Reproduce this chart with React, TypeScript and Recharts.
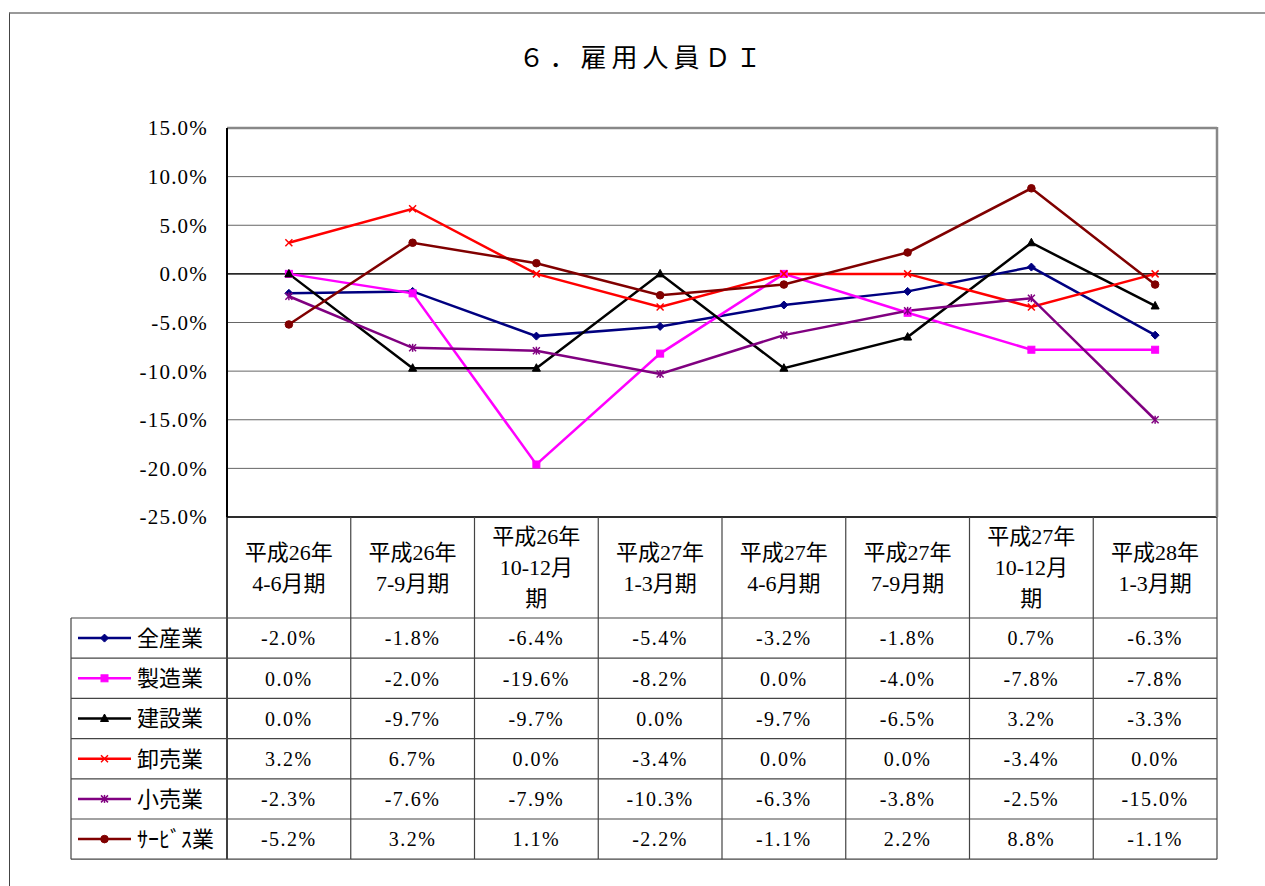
import React from 'react';
import {
  LineChart,
  Line,
  XAxis,
  YAxis,
  CartesianGrid,
  ReferenceLine,
} from 'recharts';

const CATEGORIES = [
  '平成26年\n4-6月期',
  '平成26年\n7-9月期',
  '平成26年\n10-12月\n期',
  '平成27年\n1-3月期',
  '平成27年\n4-6月期',
  '平成27年\n7-9月期',
  '平成27年\n10-12月\n期',
  '平成28年\n1-3月期',
];

const ZEN_SANGYO = [-2.0, -1.8, -6.4, -5.4, -3.2, -1.8, 0.7, -6.3];
const SEIZOGYO = [0.0, -2.0, -19.6, -8.2, 0.0, -4.0, -7.8, -7.8];
const KENSETSUGYO = [0.0, -9.7, -9.7, 0.0, -9.7, -6.5, 3.2, -3.3];
const OROSHIURI = [3.2, 6.7, 0.0, -3.4, 0.0, 0.0, -3.4, 0.0];
const KOURI = [-2.3, -7.6, -7.9, -10.3, -6.3, -3.8, -2.5, -15.0];
const SERVICE = [-5.2, 3.2, 1.1, -2.2, -1.1, 2.2, 8.8, -1.1];

const Y_TICKS = [15, 10, 5, 0, -5, -10, -15, -20, -25];

const SERIES = [
  { key: 's0', name: '全産業', values: ZEN_SANGYO, color: '#000080', marker: 'diamond' },
  { key: 's1', name: '製造業', values: SEIZOGYO, color: '#FF00FF', marker: 'square' },
  { key: 's2', name: '建設業', values: KENSETSUGYO, color: '#000000', marker: 'triangle' },
  { key: 's3', name: '卸売業', values: OROSHIURI, color: '#FF0000', marker: 'x' },
  { key: 's4', name: '小売業', values: KOURI, color: '#800080', marker: 'star' },
  { key: 's5', name: 'ｻｰﾋﾞｽ業', values: SERVICE, color: '#800000', marker: 'circle' },
];

const data = CATEGORIES.map((cat, i) => {
  const row: Record<string, any> = { cat };
  SERIES.forEach((s) => {
    row[s.key] = s.values[i];
  });
  return row;
});

const FONT = "'Liberation Serif', 'Noto Sans CJK JP', serif";

const CHART_W = 1265;
const CHART_H = 886;
const PLOT_LEFT = 227;
const PLOT_RIGHT = 1217;
const PLOT_TOP = 128;
const PLOT_BOTTOM = 517;
const HEADER_H = 101;
const ROW_H = 40.2;
const LEGEND_LEFT = 71;
const BAND = (PLOT_RIGHT - PLOT_LEFT) / CATEGORIES.length;
const Y_AXIS_W = 80;

const fmt = (v: number) => `${v.toFixed(1)}%`;

function Marker({ type, cx, cy, color }: { type: string; cx: number; cy: number; color: string }) {
  switch (type) {
    case 'diamond':
      return (
        <polygon
          points={`${cx},${cy - 4} ${cx + 4},${cy} ${cx},${cy + 4} ${cx - 4},${cy}`}
          fill={color}
          stroke={color}
        />
      );
    case 'square':
      return <rect x={cx - 3.5} y={cy - 3.5} width={7} height={7} fill={color} stroke={color} />;
    case 'triangle':
      return (
        <polygon
          points={`${cx},${cy - 4.5} ${cx + 4},${cy + 3} ${cx - 4},${cy + 3}`}
          fill={color}
          stroke={color}
        />
      );
    case 'x':
      return (
        <g stroke={color} strokeWidth={1.5}>
          <line x1={cx - 3.5} y1={cy - 3.5} x2={cx + 3.5} y2={cy + 3.5} />
          <line x1={cx - 3.5} y1={cy + 3.5} x2={cx + 3.5} y2={cy - 3.5} />
        </g>
      );
    case 'star':
      return (
        <g stroke={color} strokeWidth={1.5}>
          <line x1={cx - 3.5} y1={cy - 3.5} x2={cx + 3.5} y2={cy + 3.5} />
          <line x1={cx - 3.5} y1={cy + 3.5} x2={cx + 3.5} y2={cy - 3.5} />
          <line x1={cx} y1={cy - 4} x2={cx} y2={cy + 4} />
        </g>
      );
    case 'circle':
    default:
      return <circle cx={cx} cy={cy} r={3.8} fill={color} stroke={color} />;
  }
}

function makeDot(s: (typeof SERIES)[number]) {
  return (props: any) => {
    const { cx, cy, index } = props;
    if (cx == null || cy == null) return <g key={`${s.key}-${index}`} />;
    return (
      <g key={`${s.key}-${index}`}>
        <Marker type={s.marker} cx={cx} cy={cy} color={s.color} />
      </g>
    );
  };
}

const LINE_COLOR = '#444';

function TableColumn(props: any) {
  const { x, y, payload } = props;
  let idx = payload && typeof payload.index === 'number' ? payload.index : props.index;
  if (typeof idx !== 'number') idx = CATEGORIES.indexOf(payload.value);
  const x0 = x - BAND / 2;
  const x1 = x + BAND / 2;
  const top = y;
  const rowsTop = top + HEADER_H;
  const tableBottom = rowsTop + ROW_H * SERIES.length;
  const lines = String(CATEGORIES[idx]).split('\n');
  const lh = 31;
  const headerMid = top + HEADER_H / 2;
  const startY = headerMid - ((lines.length - 1) * lh) / 2;
  const isLast = idx === CATEGORIES.length - 1;

  return (
    <g>
      <text textAnchor="middle" fontFamily={FONT} fontSize={22} fill="#000">
        {lines.map((ln, k) => (
          <tspan key={k} x={x} y={startY + k * lh} dy="0.36em">
            {ln}
          </tspan>
        ))}
      </text>
      {isLast && (
        <line
          x1={x1}
          y1={top - (PLOT_BOTTOM - PLOT_TOP) - 1}
          x2={x1}
          y2={top}
          stroke="#888"
          strokeWidth={2.5}
        />
      )}
      <line x1={x1} y1={top} x2={x1} y2={tableBottom} stroke={LINE_COLOR} strokeWidth={1.2} />
      {idx === 0 && (
        <line x1={x0} y1={top} x2={x0} y2={tableBottom} stroke="#000" strokeWidth={1.5} />
      )}
      {SERIES.map((s, r) => {
        const ry = rowsTop + r * ROW_H;
        return (
          <g key={s.key}>
            <line x1={x0} y1={ry} x2={x1} y2={ry} stroke={LINE_COLOR} strokeWidth={1.2} />
            <text
              x={x}
              y={ry + ROW_H / 2}
              dy="0.36em"
              textAnchor="middle"
              fontFamily={FONT}
              fontSize={20}
              letterSpacing={1.5}
              fill="#000"
            >
              {fmt(s.values[idx])}
            </text>
          </g>
        );
      })}
      <line x1={x0} y1={tableBottom} x2={x1} y2={tableBottom} stroke={LINE_COLOR} strokeWidth={1.2} />
      {idx === 0 && (
        <g>
          {SERIES.map((s, r) => {
            const ry = rowsTop + r * ROW_H;
            const my = ry + ROW_H / 2;
            return (
              <g key={`leg-${s.key}`}>
                <line x1={LEGEND_LEFT} y1={ry} x2={x0} y2={ry} stroke={LINE_COLOR} strokeWidth={1.2} />
                <line x1={78} y1={my} x2={131} y2={my} stroke={s.color} strokeWidth={2.5} />
                <Marker type={s.marker} cx={104.5} cy={my} color={s.color} />
                <text x={137} y={my} dy="0.36em" fontFamily={FONT} fontSize={22} fill="#000">
                  {s.name}
                </text>
              </g>
            );
          })}
          <line x1={LEGEND_LEFT} y1={tableBottom} x2={x0} y2={tableBottom} stroke={LINE_COLOR} strokeWidth={1.2} />
          <line x1={LEGEND_LEFT} y1={rowsTop} x2={LEGEND_LEFT} y2={tableBottom} stroke={LINE_COLOR} strokeWidth={1.2} />
        </g>
      )}
    </g>
  );
}

export default function App() {
  return (
    <div
      style={{
        position: 'absolute',
        left: 0,
        top: 0,
        width: CHART_W,
        height: CHART_H,
        background: '#fff',
        overflow: 'hidden',
      }}
    >
      <div
        style={{
          position: 'absolute',
          left: 9,
          top: 12,
          width: CHART_W + 20,
          height: CHART_H + 20,
          borderTop: '2px solid #999',
          borderLeft: '1px solid #444',
        }}
      />
      <div
        style={{
          position: 'absolute',
          left: 0,
          width: CHART_W,
          top: 37,
          textAlign: 'center',
          fontFamily: FONT,
          fontSize: 26,
          letterSpacing: 5,
          color: '#000',
          paddingLeft: 10,
        }}
      >
        ６．雇用人員ＤＩ
      </div>
      <div style={{ position: 'absolute', left: 0, top: 0 }}>
        <LineChart
          width={CHART_W}
          height={CHART_H}
          data={data}
          margin={{
            top: PLOT_TOP,
            right: CHART_W - PLOT_RIGHT,
            bottom: 0,
            left: PLOT_LEFT - Y_AXIS_W,
          }}
        >
          <CartesianGrid vertical={false} stroke="#666" strokeWidth={1} />
          <ReferenceLine y={15} stroke="#888" strokeWidth={2.5} ifOverflow="visible" />
          <ReferenceLine y={0} stroke="#000" strokeWidth={1.3} />
          <XAxis
            dataKey="cat"
            type="category"
            height={CHART_H - PLOT_BOTTOM}
            padding={{ left: BAND / 2, right: BAND / 2 }}
            axisLine={{ stroke: '#000', strokeWidth: 1.5 }}
            tickLine={false}
            tickSize={0}
            tickMargin={0}
            interval={0}
            tick={<TableColumn />}
          />
          <YAxis
            type="number"
            domain={[-25, 15]}
            ticks={Y_TICKS}
            width={Y_AXIS_W}
            axisLine={{ stroke: '#000', strokeWidth: 2 }}
            tickLine={false}
            tickSize={0}
            tickMargin={19}
            tickFormatter={fmt}
            tick={{ fill: '#000', fontSize: 21, fontFamily: FONT, letterSpacing: 1.2 }}
            interval={0}
          />
          {SERIES.map((s) => (
            <Line
              key={s.key}
              type="linear"
              dataKey={s.key}
              name={s.name}
              stroke={s.color}
              strokeWidth={2.5}
              dot={makeDot(s)}
              activeDot={false}
              isAnimationActive={false}
            />
          ))}
        </LineChart>
      </div>
    </div>
  );
}
